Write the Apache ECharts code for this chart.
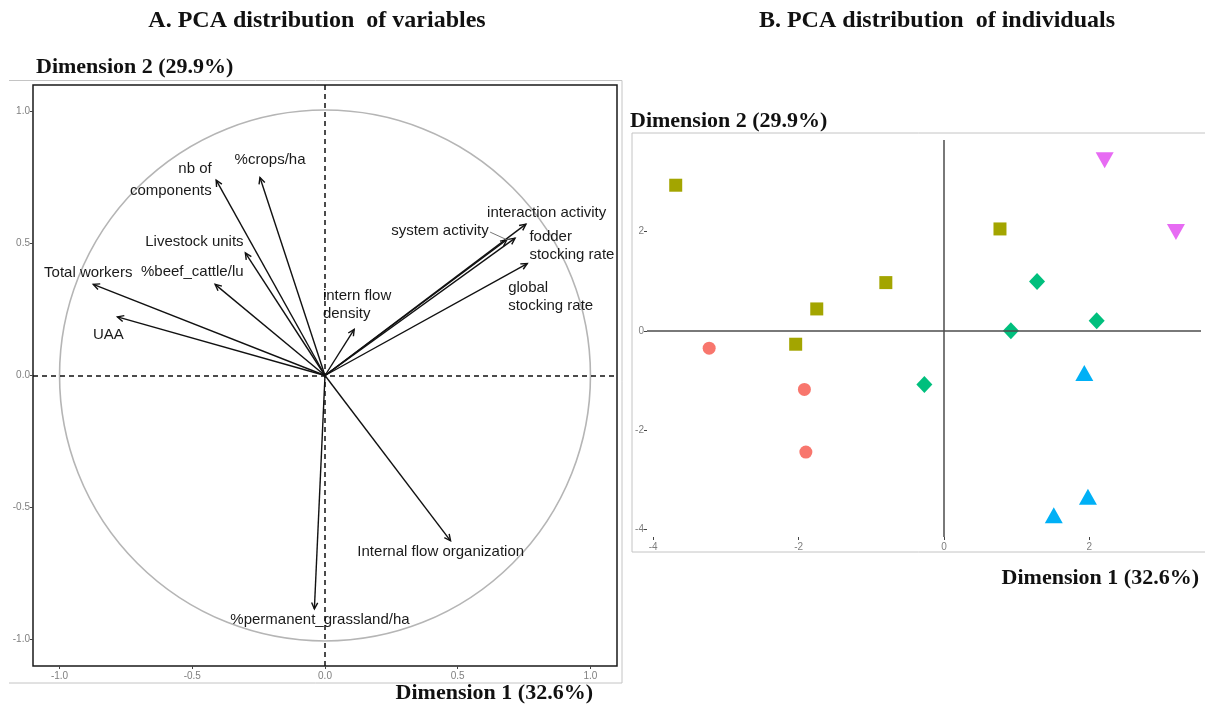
<!DOCTYPE html>
<html>
<head>
<meta charset="utf-8">
<script src="https://cdn.jsdelivr.net/npm/echarts@6/dist/echarts.min.js"></script>
<style>
  html, body { margin: 0; padding: 0; background: #fff; }
  #main { width: 1205px; height: 707px; }
</style>
</head>
<body>
<div id="main"></div>
<script>
// A. variables (correlation circle)
var varNames = ["nb of\ncomponents", "%crops/ha", "Livestock units", "%beef_cattle/lu",
    "Total workers", "UAA", "interaction activity", "system activity",
    "fodder\nstocking rate", "global\nstocking rate", "intern flow\ndensity",
    "Internal flow organization", "%permanent_grassland/ha"];
var varDim1 = [-0.41, -0.245, -0.30, -0.414, -0.873, -0.782, 0.757, 0.685, 0.716, 0.762, 0.11, 0.473, -0.04];
var varDim2 = [0.74, 0.75, 0.464, 0.345, 0.345, 0.222, 0.573, 0.514, 0.52, 0.424, 0.175, -0.626, -0.884];
var tickVarLabels = [-1.0, -0.5, 0.0, 0.5, 1.0];

// B. individuals, by group
var grpCircleX = [-3.23, -1.92, -1.90];
var grpCircleY = [-0.35, -1.18, -2.44];
var grpSquareX = [-3.69, 0.77, -0.80, -1.75, -2.04];
var grpSquareY = [2.93, 2.05, 0.97, 0.44, -0.27];
var grpDiamondX = [1.28, 2.10, 0.92, -0.27];
var grpDiamondY = [0.99, 0.20, 0.0, -1.08];
var grpTriangleX = [1.93, 1.98, 1.51];
var grpTriangleY = [-0.85, -3.34, -3.71];
var grpDownX = [2.21, 3.19];
var grpDownY = [3.43, 1.99];
var tickIndLabels = [-4, -2, 0, 2];

// label placement (repel result), in data units
var labelLayout = [
    {x: -0.427, y: 0.739, align: "right", lh: 22},
    {x: -0.207, y: 0.817, align: "center"},
    {x: -0.492, y: 0.506, align: "center"},
    {x: -0.500, y: 0.392, align: "center"},
    {x: -0.892, y: 0.389, align: "center"},
    {x: -0.816, y: 0.153, align: "center"},
    {x: 0.835, y: 0.617, align: "center"},
    {x: 0.433, y: 0.546, align: "center", leader: [0.622, 0.543]},
    {x: 0.770, y: 0.490, align: "left", lh: 18},
    {x: 0.690, y: 0.297, align: "left", lh: 18},
    {x: -0.008, y: 0.267, align: "left", lh: 18},
    {x: 0.436, y: -0.666, align: "center"},
    {x: -0.019, y: -0.924, align: "center"}
];

function zip(xs, ys){
    var out = [];
    for (var i = 0; i < xs.length; i++){
        out.push([xs[i], ys[i]]);
    }
    return out;
}

var arrowData = [];
var labelData = [];
for (var i = 0; i < varNames.length; i++){
    arrowData.push([varDim1[i], varDim2[i], i]);
    labelData.push([labelLayout[i].x, labelLayout[i].y, i]);
}

var serif = "'Liberation Serif', 'DejaVu Serif', serif";
var sans = "'Liberation Sans', Arial, sans-serif";
var tickStyle = {color: "#7f7f7f", fontSize: 10, fontFamily: sans};

function renderArrow(params, api){
    var o = api.coord([0, 0]);
    var t = api.coord([api.value(0), api.value(1)]);
    var ang = Math.atan2(t[1] - o[1], t[0] - o[0]);
    var len = 7, spread = Math.PI / 7;
    var p1 = [t[0] - len * Math.cos(ang - spread), t[1] - len * Math.sin(ang - spread)];
    var p2 = [t[0] - len * Math.cos(ang + spread), t[1] - len * Math.sin(ang + spread)];
    var st = {stroke: "#111", lineWidth: 1.4, fill: null};
    return {
        type: "group",
        children: [
            {type: "line", shape: {x1: o[0], y1: o[1], x2: t[0], y2: t[1]}, style: st},
            {type: "polyline", shape: {points: [p1, t, p2]}, style: st}
        ]
    };
}

function renderLabel(params, api){
    var idx = api.value(2);
    var lay = labelLayout[idx];
    var p = api.coord([api.value(0), api.value(1)]);
    var kids = [{
        type: "text", x: p[0], y: p[1],
        style: {
            text: varNames[idx], fill: "#1a1a1a",
            font: "15px " + sans, lineHeight: lay.lh || 18,
            align: lay.align, verticalAlign: "middle"
        }
    }];
    if (lay.leader){
        var a = api.coord(lay.leader);
        var b = api.coord([varDim1[idx], varDim2[idx]]);
        kids.push({type: "line", shape: {x1: a[0], y1: a[1], x2: b[0], y2: b[1]},
            style: {stroke: "#777", lineWidth: 1}});
    }
    return {type: "group", children: kids};
}

function renderCircle(params, api){
    var c = api.coord([0, 0]);
    var r = api.size([1, 0])[0];
    return {type: "circle", shape: {cx: c[0], cy: c[1], r: r},
        style: {stroke: "#b5b5b5", lineWidth: 1.6, fill: null}};
}

var frameColor = "#c4c4c4";
function hline(x1, x2, y){ return {type: "line", shape: {x1: x1, y1: y, x2: x2, y2: y}, style: {stroke: frameColor, lineWidth: 1}}; }
function vline(x, y1, y2){ return {type: "line", shape: {x1: x, y1: y1, x2: x, y2: y2}, style: {stroke: frameColor, lineWidth: 1}}; }
function txt(x, y, s, size, align){
    return {type: "text", x: x, y: y, style: {text: s, font: "bold " + size + "px " + serif, fill: "#111", align: align, verticalAlign: "middle"}};
}

function valueAxis(grid, min, max, ticks, margin, fmt){
    var lab = Object.assign({customValues: ticks, margin: margin}, tickStyle);
    if (fmt){ lab.formatter = fmt; }
    return {
        gridIndex: grid, type: "value", min: min, max: max,
        splitLine: {show: false},
        axisLine: {show: false, onZero: false},
        axisTick: {show: true, length: 3, customValues: ticks, lineStyle: {color: "#444"}},
        axisLabel: lab
    };
}
var oneDecimal = function(v){ return v.toFixed(1); };

var option = {
    backgroundColor: "#fff",
    animation: false,
    graphic: [
        hline(9, 622, 80.5), vline(622, 80.5, 683), hline(9, 622, 683),
        hline(632, 1205, 133), vline(632, 133, 552), hline(632, 1205, 552),
        txt(317, 21, "A. PCA distribution  of variables", 24, "center"),
        txt(937, 21, "B. PCA distribution  of individuals", 24, "center"),
        txt(36, 67, "Dimension 2 (29.9%)", 22, "left"),
        txt(593, 693, "Dimension 1 (32.6%)", 22, "right"),
        txt(630, 121, "Dimension 2 (29.9%)", 22, "left"),
        txt(1199, 578, "Dimension 1 (32.6%)", 22, "right")
    ],
    grid: [
        {left: 33, top: 85, width: 584, height: 581, show: true, borderColor: "#1a1a1a", borderWidth: 1.5, backgroundColor: "transparent"},
        {left: 647, top: 140, width: 554, height: 397}
    ],
    xAxis: [
        valueAxis(0, -1.1, 1.1, tickVarLabels, 5, oneDecimal),
        valueAxis(1, -4.085, 3.535, tickIndLabels, 5)
    ],
    yAxis: [
        valueAxis(0, -1.1, 1.1, tickVarLabels, 3, oneDecimal),
        valueAxis(1, -4.15, 3.84, tickIndLabels, 3)
    ],
    series: [
        {
            type: "custom", xAxisIndex: 0, yAxisIndex: 0, silent: true, z: 1,
            data: [[0, 0]], renderItem: renderCircle,
            markLine: {
                silent: true, symbol: "none", label: {show: false},
                lineStyle: {color: "#111", width: 1.5, type: [5, 4]},
                data: [{xAxis: 0}, {yAxis: 0}]
            }
        },
        {type: "custom", xAxisIndex: 0, yAxisIndex: 0, silent: true, z: 3, data: arrowData, renderItem: renderArrow},
        {type: "custom", xAxisIndex: 0, yAxisIndex: 0, silent: true, z: 4, data: labelData, renderItem: renderLabel},
        {
            type: "scatter", xAxisIndex: 1, yAxisIndex: 1, z: 2,
            data: [], symbolSize: 0,
            markLine: {
                silent: true, symbol: "none", label: {show: false},
                lineStyle: {color: "#4d4d4d", width: 1.5, type: "solid"},
                data: [{xAxis: 0}, {yAxis: 0}]
            }
        },
        {type: "scatter", xAxisIndex: 1, yAxisIndex: 1, z: 3, symbol: "circle", symbolSize: 13,
            itemStyle: {color: "#F8766D", opacity: 1}, data: zip(grpCircleX, grpCircleY)},
        {type: "scatter", xAxisIndex: 1, yAxisIndex: 1, z: 3, symbol: "rect", symbolSize: 13,
            itemStyle: {color: "#A3A500", opacity: 1}, data: zip(grpSquareX, grpSquareY)},
        {type: "scatter", xAxisIndex: 1, yAxisIndex: 1, z: 3, symbol: "diamond", symbolSize: [16, 17],
            itemStyle: {color: "#00BF7D", opacity: 1}, data: zip(grpDiamondX, grpDiamondY)},
        {type: "scatter", xAxisIndex: 1, yAxisIndex: 1, z: 3, symbol: "triangle", symbolSize: [18, 16],
            itemStyle: {color: "#00B0F6", opacity: 1}, data: zip(grpTriangleX, grpTriangleY)},
        {type: "scatter", xAxisIndex: 1, yAxisIndex: 1, z: 3, symbol: "triangle", symbolRotate: 180, symbolSize: [18, 16],
            itemStyle: {color: "#E76BF3", opacity: 1}, data: zip(grpDownX, grpDownY)}
    ]
};

var chart = echarts.init(document.getElementById("main"), null, {renderer: "canvas"});
chart.setOption(option);
</script>
</body>
</html>
